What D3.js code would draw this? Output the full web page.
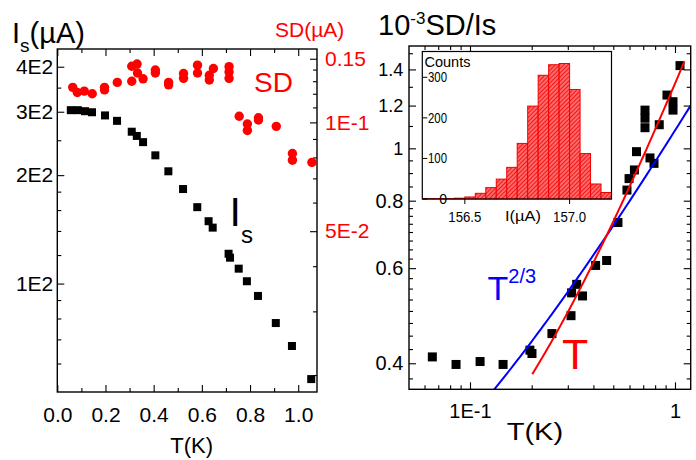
<!DOCTYPE html>
<html>
<head>
<meta charset="utf-8">
<script src="https://cdn.jsdelivr.net/npm/d3@7"></script>
<style>
  body { margin: 0; background: #fff; }
  svg text { font-family: "Liberation Sans", Arial, Helvetica, sans-serif; }
</style>
</head>
<body>
<svg id="chart" width="696" height="460"></svg>
<script>
// ---- Left panel: supercurrent Is (black, left log axis) and its SD (red, right log axis)
const isT   = [0.056, 0.085, 0.115, 0.144, 0.198, 0.248, 0.309, 0.330, 0.356, 0.407, 0.461, 0.522,
               0.581, 0.628, 0.645, 0.711, 0.717, 0.753, 0.787, 0.833, 0.907, 0.974, 1.054];
const isVal = [303, 303, 301, 299, 293, 283, 264, 257, 247, 227, 205, 183,
               163, 149, 143, 121, 118, 110, 101.5, 92.4, 77.7, 67.1, 54.3];

const sdT   = [0.064, 0.083, 0.112, 0.145, 0.196, 0.196, 0.249, 0.309, 0.309, 0.331, 0.333, 0.356,
               0.407, 0.407, 0.462, 0.462, 0.524, 0.524, 0.582, 0.582, 0.631, 0.631, 0.648,
               0.713, 0.713, 0.713, 0.755, 0.789, 0.789, 0.835, 0.835, 0.909, 0.976, 0.976, 1.057];
const sdVal = [0.125, 0.121, 0.122, 0.120, 0.125, 0.123, 0.129, 0.130, 0.143, 0.145, 0.137, 0.132,
               0.1396, 0.137, 0.129, 0.127, 0.1365, 0.1324, 0.144, 0.137, 0.131, 0.135, 0.141,
               0.1426, 0.1378, 0.1324, 0.104, 0.099, 0.095, 0.103, 0.1015, 0.0975, 0.082, 0.0786, 0.0775];

const leftXTicks      = [0, 0.2, 0.4, 0.6, 0.8, 1.0];
const leftXMinor      = [0.1, 0.3, 0.5, 0.7, 0.9];
const isTicks         = [100, 200, 300, 400];
const isTickLabels    = ["1E2", "2E2", "3E2", "4E2"];
const isMinor         = [60, 70, 80, 90, 120, 140, 160, 180, 250, 350];
const sdTicks         = [0.05, 0.1, 0.15];
const sdTickLabels    = ["5E-2", "1E-1", "0.15"];
const sdMinor         = [0.02, 0.03, 0.04, 0.06, 0.07, 0.08, 0.09, 0.11, 0.12, 0.13, 0.14];

// ---- Right panel: 10^-3 SD/Is versus T (log-log)
const ratioT   = [0.0655, 0.0855, 0.112, 0.145, 0.196, 0.2006, 0.251, 0.311, 0.313, 0.3315, 0.354,
                  0.410, 0.464, 0.527, 0.583, 0.597, 0.634, 0.649, 0.755, 0.790, 0.714, 0.714, 0.714,
                  0.838, 0.914, 0.978, 0.978, 1.058];
const ratioVal = [0.411, 0.398, 0.403, 0.398, 0.423, 0.417, 0.454, 0.490, 0.540, 0.560, 0.533,
                  0.607, 0.620, 0.729, 0.837, 0.879, 0.912, 0.986, 0.960, 0.938, 1.177, 1.137, 1.092,
                  1.106, 1.255, 1.220, 1.177, 1.423];

const ratioXTicks      = [0.1, 1];
const ratioXTickLabels = ["1E-1", "1"];
const ratioXMinor      = [0.06, 0.07, 0.08, 0.09, 0.2, 0.3, 0.4, 0.5, 0.6, 0.7, 0.8, 0.9];
const ratioYTicks      = [0.4, 0.6, 0.8, 1.0, 1.2, 1.4];
const ratioYTickLabels = ["0.4", "0.6", "0.8", "1", "1.2", "1.4"];
const ratioYMinor      = [0.375, 0.425, 0.45, 0.475, 0.5, 0.525, 0.55, 0.575, 0.625, 0.65, 0.675,
                          0.7, 0.725, 0.75, 0.775, 0.85, 0.9, 0.95, 1.1, 1.3, 1.5];

// Fits: linear in T (red) and a + c*T^(2/3) (blue)
const fitLinear = { a: 0.146, b: 1.172, tMin: 0.2013, tMax: 1.11 };
const fitPow    = { a: 0.1065, c: 0.9726, tMin: 0.12, tMax: 1.2 };

// ---- Inset histogram of the switching current I(µA)
const histLo     = [156.30, 156.35, 156.40, 156.45, 156.50, 156.55, 156.60, 156.65, 156.70,
                    156.75, 156.80, 156.85, 156.90, 156.95, 157.00, 157.05, 157.10, 157.15];
const histCounts = [1, 1, 1, 2, 5, 14, 28, 49, 78, 137, 229, 305, 331, 334, 270, 112, 37, 16];
const histBinWidth = 0.05;
const histXTicks = [156.5, 157.0];
const histYTicks = [0, 100, 200, 300];

const RED = "#ff0000", BLUE = "#0000ff";
const svg = d3.select("#chart");

// hatched fill for the histogram bars
const defs = svg.append("defs");
const pat = defs.append("pattern").attr("id", "hatch").attr("patternUnits", "userSpaceOnUse")
  .attr("width", 3).attr("height", 3).attr("patternTransform", "rotate(45)");
pat.append("rect").attr("width", 3).attr("height", 3).attr("fill", "#ff6a6a");
pat.append("line").attr("x1", 0).attr("y1", 0).attr("x2", 0).attr("y2", 3)
  .attr("stroke", "#f00000").attr("stroke-width", 1.6);

function axis(gen, scale, vals, len, transform, opts = {}) {
  const labels = opts.labels;
  const a = gen(scale).tickValues(vals).tickSizeInner(-len).tickSizeOuter(0)
    .tickPadding(opts.pad ?? 4)
    .tickFormat(labels ? (d, i) => labels[i] : () => "");
  const g = svg.append("g").attr("transform", transform).call(a);
  g.select(".domain").remove();
  g.selectAll(".tick line").attr("stroke", "#000").attr("stroke-width", 1.1);
  g.selectAll(".tick text").attr("font-size", opts.fs || 16).attr("fill", opts.color || "#000")
    .style("font-family", '"Liberation Sans", Arial, sans-serif');
  return g;
}
function stretch(sel, len) {
  sel.attr("textLength", len).attr("lengthAdjust", "spacingAndGlyphs");
}

// ================= LEFT PANEL =================
const L = { x0: 57.3, x1: 317, y0: 49, y1: 392 };
const xL  = d3.scaleLinear().domain([0, 1.078]).range([L.x0, L.x1]);
const yIs = d3.scaleLog().domain([50, 448]).range([L.y1, L.y0]);
const ySd = d3.scaleLog().domain([0.01795, 0.1596]).range([L.y1, L.y0]);

axis(d3.axisBottom, xL, leftXTicks, 7, `translate(0,${L.y1})`, { labels: leftXTicks.map(d => d.toFixed(1)), fs: 21, pad: 15 });
axis(d3.axisBottom, xL, leftXMinor, 4, `translate(0,${L.y1})`);
axis(d3.axisTop, xL, leftXTicks, 7, `translate(0,${L.y0})`);
axis(d3.axisTop, xL, leftXMinor, 4, `translate(0,${L.y0})`);
axis(d3.axisLeft, yIs, isTicks, 7, `translate(${L.x0},0)`, { labels: isTickLabels, fs: 21, pad: 4 });
axis(d3.axisLeft, yIs, isMinor, 4, `translate(${L.x0},0)`);
axis(d3.axisRight, ySd, sdTicks, 7, `translate(${L.x1},0)`, { labels: sdTickLabels, fs: 21, pad: 8, color: RED });
axis(d3.axisRight, ySd, sdMinor, 4, `translate(${L.x1},0)`);

svg.append("rect").attr("x", L.x0).attr("y", L.y0).attr("width", L.x1 - L.x0).attr("height", L.y1 - L.y0)
  .attr("fill", "none").attr("stroke", "#000").attr("stroke-width", 1.4);

svg.append("g").selectAll("circle").data(sdT).join("circle")
  .attr("cx", d => xL(d)).attr("cy", (d, i) => ySd(sdVal[i])).attr("r", 4.7).attr("fill", RED);

svg.append("g").selectAll("rect").data(isT).join("rect")
  .attr("x", d => xL(d) - 4).attr("y", (d, i) => yIs(isVal[i]) - 4)
  .attr("width", 8).attr("height", 8).attr("fill", "#000");

// titles and labels of the left panel
const tIs = svg.append("text").attr("x", 12).attr("y", 42.5).attr("font-size", 29).attr("fill", "#000");
tIs.append("tspan").text("I");
tIs.append("tspan").attr("font-size", 19).attr("dy", 9).text("s");
tIs.append("tspan").attr("dy", -9).text("(µA)");

svg.append("text").attr("x", 275).attr("y", 37).attr("font-size", 21).attr("fill", RED).text("SD(µA)");
svg.append("text").attr("x", 254).attr("y", 91.7).attr("font-size", 28).attr("fill", RED).text("SD");

const tIs2 = svg.append("text").attr("x", 229.6).attr("y", 226).attr("font-size", 41).attr("fill", "#000");
tIs2.append("tspan").text("I");
tIs2.append("tspan").attr("font-size", 24).attr("dy", 16.7).attr("dx", 0).text("s");

svg.append("text").attr("x", 191.7).attr("y", 453).attr("text-anchor", "middle").attr("font-size", 22).text("T(K)");

// ================= RIGHT PANEL =================
const R = { x0: 409, x1: 690.7, y0: 46, y1: 389.3 };
const xR = d3.scaleLog().domain([0.0504, 1.193]).range([R.x0, R.x1]);
const yR = d3.scaleLog().domain([0.358, 1.547]).range([R.y1, R.y0]);

axis(d3.axisBottom, xR, ratioXTicks, 7, `translate(0,${R.y1})`, { labels: ratioXTickLabels, fs: 20, pad: 14.5 });
axis(d3.axisBottom, xR, ratioXMinor, 4, `translate(0,${R.y1})`);
axis(d3.axisTop, xR, ratioXTicks, 7, `translate(0,${R.y0})`);
axis(d3.axisTop, xR, ratioXMinor, 4, `translate(0,${R.y0})`);
const gyl = axis(d3.axisLeft, yR, ratioYTicks, 7, `translate(${R.x0},0)`, { labels: ratioYTickLabels, fs: 20, pad: 5.7 });
gyl.selectAll(".tick text").attr("font-size", d => d >= 1 ? 18 : 20);
axis(d3.axisLeft, yR, ratioYMinor, 4, `translate(${R.x0},0)`);
axis(d3.axisRight, yR, ratioYTicks, 7, `translate(${R.x1},0)`);
axis(d3.axisRight, yR, ratioYMinor, 4, `translate(${R.x1},0)`);

svg.append("defs").append("clipPath").attr("id", "clipR").append("rect")
  .attr("x", R.x0).attr("y", R.y0).attr("width", R.x1 - R.x0).attr("height", R.y1 - R.y0);

const linePath = d3.line().x(d => xR(d[0])).y(d => yR(d[1]));
const fitLinPts = d3.range(0, 61).map(i => {
  const t = fitLinear.tMin * Math.pow(fitLinear.tMax / fitLinear.tMin, i / 60);
  return [t, fitLinear.a + fitLinear.b * t];
});
const fitPowPts = d3.range(0, 61).map(i => {
  const t = fitPow.tMin * Math.pow(fitPow.tMax / fitPow.tMin, i / 60);
  return [t, fitPow.a + fitPow.c * Math.pow(t, 2 / 3)];
});

const gData = svg.append("g").attr("clip-path", "url(#clipR)");
gData.selectAll("rect").data(ratioT).join("rect")
  .attr("x", d => xR(d) - 4.5).attr("y", (d, i) => yR(ratioVal[i]) - 4.5)
  .attr("width", 9).attr("height", 9).attr("fill", "#000");
gData.append("path").attr("d", linePath(fitPowPts)).attr("fill", "none").attr("stroke", BLUE).attr("stroke-width", 2);
gData.append("path").attr("d", linePath(fitLinPts)).attr("fill", "none").attr("stroke", RED).attr("stroke-width", 2);

svg.append("rect").attr("x", R.x0).attr("y", R.y0).attr("width", R.x1 - R.x0).attr("height", R.y1 - R.y0)
  .attr("fill", "none").attr("stroke", "#000").attr("stroke-width", 1.4);

const tRatio = svg.append("text").attr("x", 378).attr("y", 35).attr("font-size", 29);
tRatio.append("tspan").text("10");
tRatio.append("tspan").attr("font-size", 17).attr("dy", -11).text("-3");
tRatio.append("tspan").attr("dy", 11).text("SD/Is");

stretch(svg.append("text").attr("x", 506.7).attr("y", 440).attr("font-size", 23).text("T(K)"), 56.5);

const tPow = svg.append("text").attr("x", 487.5).attr("y", 300).attr("font-size", 34).attr("fill", BLUE);
tPow.append("tspan").text("T");
tPow.append("tspan").attr("font-size", 20).attr("dy", -17).text("2/3");
svg.append("text").attr("x", 562).attr("y", 369.3).attr("font-size", 43).attr("fill", RED).text("T");

// ================= INSET HISTOGRAM =================
const I = { x0: 422.3, x1: 611.5, y0: 51.5, y1: 199 };
const xH = d3.scaleLinear().domain([156.297, 157.2]).range([I.x0, I.x1]);
const yH = d3.scaleLinear().domain([0, 363.6]).range([I.y1, I.y0]);

svg.append("rect").attr("x", I.x0).attr("y", I.y0).attr("width", I.x1 - I.x0).attr("height", I.y1 - I.y0)
  .attr("fill", "#fff");
svg.append("g").selectAll("rect").data(histLo).join("rect")
  .attr("x", d => xH(d)).attr("width", d => xH(d + histBinWidth) - xH(d))
  .attr("y", (d, i) => yH(histCounts[i])).attr("height", (d, i) => yH(0) - yH(histCounts[i]))
  .attr("fill", "url(#hatch)").attr("stroke", "#f00000").attr("stroke-width", 1);
svg.append("rect").attr("x", I.x0).attr("y", I.y0).attr("width", I.x1 - I.x0).attr("height", I.y1 - I.y0)
  .attr("fill", "none").attr("stroke", "#000").attr("stroke-width", 1.2);

// inset y ticks point inward, labels sit inside the frame
const gHy = svg.append("g");
gHy.selectAll("line").data(histYTicks).join("line")
  .attr("x1", I.x0).attr("x2", I.x0 + 5).attr("y1", d => yH(d)).attr("y2", d => yH(d))
  .attr("stroke", "#000").attr("stroke-width", 1);
const hyText = gHy.selectAll("text").data(histYTicks).join("text")
  .attr("x", 447).attr("y", d => yH(d) + 5).attr("text-anchor", "end").attr("font-size", 14).text(d => d);
stretch(hyText.filter(d => d >= 100), 19);
svg.append("text").attr("x", 424.5).attr("y", 66.5).attr("font-size", 14.5).text("Counts");

const gHx = svg.append("g");
gHx.selectAll("line").data(histXTicks).join("line")
  .attr("x1", d => xH(d)).attr("x2", d => xH(d)).attr("y1", I.y1).attr("y2", I.y1 + 5)
  .attr("stroke", "#000").attr("stroke-width", 1);
const hxText = gHx.selectAll("text").data(histXTicks).join("text")
  .attr("x", d => xH(d) - 16.5).attr("y", 221.5).attr("font-size", 15).text(d => d.toFixed(1));
stretch(hxText, 33);
stretch(svg.append("text").attr("x", 505).attr("y", 221).attr("font-size", 15).text("I(µA)"), 36);
</script>
</body>
</html>
